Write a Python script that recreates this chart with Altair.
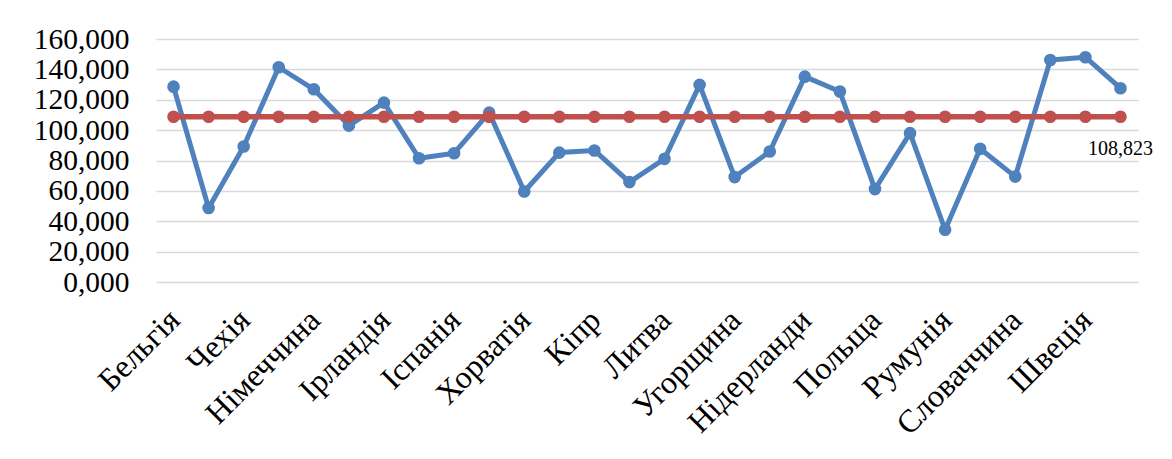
import altair as alt
import pandas as pd

countries = ["Бельгія", "Болгарія", "Чехія", "Данія", "Німеччина", "Естонія", "Ірландія",
             "Греція", "Іспанія", "Франція", "Хорватія", "Італія", "Кіпр", "Латвія",
             "Литва", "Люксембург", "Угорщина", "Мальта", "Нідерланди", "Австрія",
             "Польща", "Португалія", "Румунія", "Словенія", "Словаччина", "Фінляндія",
             "Швеція", "Велика Британія"]
values = [128.6, 48.7, 89.2, 141.4, 126.9, 103.0, 118.1,
          81.5, 84.8, 111.5, 59.6, 85.2, 86.6, 65.8,
          81.1, 129.8, 69.1, 85.9, 135.2, 125.4,
          61.2, 98.0, 34.4, 87.7, 69.4, 146.2,
          148.0, 127.6]
average = [108.823, 108.823, 108.823, 108.823, 108.823, 108.823, 108.823,
           108.823, 108.823, 108.823, 108.823, 108.823, 108.823, 108.823,
           108.823, 108.823, 108.823, 108.823, 108.823, 108.823,
           108.823, 108.823, 108.823, 108.823, 108.823, 108.823,
           108.823, 108.823]
y_ticks = [0, 20, 40, 60, 80, 100, 120, 140, 160]
shown_labels = countries[::2]

df = pd.DataFrame({"country": countries, "value": values, "avg": average})

FONT = "Liberation Serif"

x = alt.X("country:N", sort=countries, title=None,
          axis=alt.Axis(values=shown_labels, labelAngle=-45, labelAlign="right",
                        labelBaseline="top", labelFont=FONT, labelFontSize=32,
                        labelColor="#000000", labelPadding=22, labelOffset=-10,
                        ticks=False, domain=False, grid=False, labelOverlap=False))

yscale = alt.Scale(domain=[0, 160], nice=False)
yaxis = alt.Axis(values=y_ticks,
                 labelExpr="replace(format(datum.value, '.3f'), '.', ',')",
                 labelFont=FONT, labelFontSize=29.5, labelColor="#000000",
                 labelPadding=27, ticks=False, domain=False,
                 labelOverlap=False, labelBound=False, labelFlush=False,
                 grid=True, gridColor="#d9d9d9", gridWidth=1.5)

blue = alt.Chart(df).mark_line(
    color="#4F81BD", strokeWidth=5, strokeJoin="round",
    point=alt.OverlayMarkDef(color="#4F81BD", size=160, filled=True, opacity=1)
).encode(x=x, y=alt.Y("value:Q", title=None, scale=yscale, axis=yaxis))

red = alt.Chart(df).mark_line(
    color="#C0504D", strokeWidth=5.5,
    point=alt.OverlayMarkDef(color="#C0504D", size=160, filled=True, opacity=1)
).encode(x=x, y=alt.Y("avg:Q", title=None, scale=yscale, axis=yaxis))

label = alt.Chart(df).transform_filter(
    alt.datum.country == countries[-1]
).transform_calculate(
    txt="replace(format(datum.avg, '.3f'), '.', ',')"
).mark_text(font=FONT, fontSize=20, color="#000000", dy=32, align="center"
).encode(x=x, y=alt.Y("avg:Q", title=None, scale=yscale, axis=yaxis), text="txt:N")

chart = alt.layer(blue, red, label).properties(
    width=982, height=243,
    autosize=alt.AutoSizeParams(type="none"),
    padding={"left": 148, "top": 31, "right": 26, "bottom": 170},
    background="#ffffff"
).configure_view(stroke=None)

chart.save("out.html", embed_options={"renderer": "svg", "actions": False})
